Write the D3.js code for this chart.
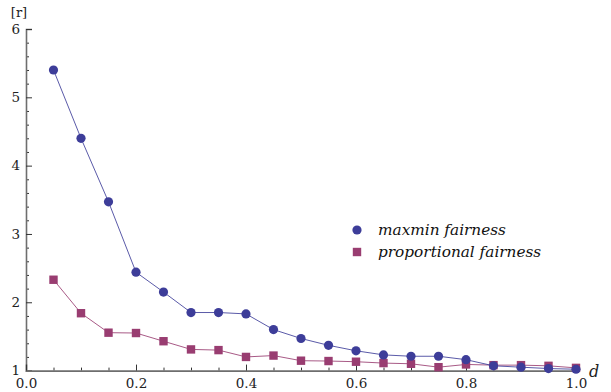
<!DOCTYPE html>
<html>
<head>
<meta charset="utf-8">
<script src="https://cdn.jsdelivr.net/npm/d3@7"></script>
<style>
  body { margin: 0; background: #fff; }
  svg text { font-family: "DejaVu Serif", "Liberation Serif", serif; }
</style>
</head>
<body>
<script>
// d values (x axis)
const dValues = [0.05, 0.10, 0.15, 0.20, 0.25, 0.30, 0.35, 0.40, 0.45, 0.50,
                 0.55, 0.60, 0.65, 0.70, 0.75, 0.80, 0.85, 0.90, 0.95, 1.00];

// [r] for each series
const maxminValues = [5.40, 4.40, 3.47, 2.44, 2.15, 1.85, 1.85, 1.83, 1.60, 1.47,
                      1.37, 1.29, 1.23, 1.21, 1.21, 1.16, 1.07, 1.05, 1.03, 1.02];
const propValues = [2.33, 1.84, 1.555, 1.55, 1.43, 1.31, 1.30, 1.20, 1.22, 1.145,
                    1.14, 1.13, 1.11, 1.10, 1.05, 1.09, 1.08, 1.08, 1.07, 1.04];

const seriesNames = ["maxmin fairness", "proportional fairness"];
const xTicks = [0, 0.2, 0.4, 0.6, 0.8, 1.0];
const yTicks = [1, 2, 3, 4, 5, 6];

const width = 611, height = 392;
const blue = "#3d3d99", purple = "#993d71";
const axisColor = "#6e6e6e";

const svg = d3.select("body").append("svg")
    .attr("width", width)
    .attr("height", height);

const x = d3.scaleLinear().domain([0, 1]).range([26, 576]);
const y = d3.scaleLinear().domain([1, 6]).range([370.6, 29]);

// minor ticks first
const yMinor = d3.range(1, 6.001, 0.2).filter(v => Math.abs(v - Math.round(v)) > 1e-6);
const xMinor = d3.range(0, 1.001, 0.05).filter(v => Math.abs(v * 5 - Math.round(v * 5)) > 1e-6);

const yAxisG = svg.append("g").attr("transform", `translate(${x(0)},0)`);
yAxisG.append("g")
    .call(d3.axisLeft(y).tickValues(yMinor).tickSize(-3).tickFormat(""))
    .call(g => g.select(".domain").remove());
yAxisG.append("g")
    .call(d3.axisLeft(y).tickValues(yTicks).tickSize(-6).tickPadding(6).tickFormat(d3.format("d")))
    .call(g => g.select(".domain").attr("stroke-width", 1.6));

const xAxisG = svg.append("g").attr("transform", `translate(0,${y(1)})`);
xAxisG.append("g")
    .call(d3.axisBottom(x).tickValues(xMinor).tickSize(-3).tickFormat(""))
    .call(g => g.select(".domain").remove());
xAxisG.append("g")
    .call(d3.axisBottom(x).tickValues(xTicks).tickSize(-6).tickPadding(8).tickFormat(d3.format(".1f")))
    .call(g => g.select(".domain").attr("stroke-width", 1.6));

svg.selectAll(".domain").attr("stroke", axisColor);
svg.selectAll(".tick line").attr("stroke", "#333");
svg.selectAll(".tick text")
    .attr("fill", "#222")
    .attr("font-family", null)
    .style("font-size", "13.5px");

// axis labels
svg.append("text")
    .attr("x", 19).attr("y", 17)
    .attr("text-anchor", "middle")
    .attr("fill", "#222")
    .style("font-size", "13px")
    .text("[r]");

svg.append("text")
    .attr("x", 589).attr("y", 377)
    .attr("fill", "#222")
    .style("font-size", "16px")
    .style("font-style", "italic")
    .text("d");

// lines
const line = d3.line().x((d, i) => x(dValues[i])).y(d => y(d));

svg.append("path").datum(propValues)
    .attr("d", line)
    .attr("fill", "none")
    .attr("stroke", purple)
    .attr("stroke-width", 1)
    .attr("opacity", 0.85);

svg.append("path").datum(maxminValues)
    .attr("d", line)
    .attr("fill", "none")
    .attr("stroke", blue)
    .attr("stroke-width", 1)
    .attr("opacity", 0.85);

// markers
svg.selectAll(".sq").data(propValues).enter()
    .append("rect")
    .attr("class", "sq")
    .attr("x", (d, i) => x(dValues[i]) - 4.2)
    .attr("y", d => y(d) - 4.2)
    .attr("width", 8.4)
    .attr("height", 8.4)
    .attr("fill", purple);

svg.selectAll(".dot").data(maxminValues).enter()
    .append("circle")
    .attr("class", "dot")
    .attr("cx", (d, i) => x(dValues[i]))
    .attr("cy", d => y(d))
    .attr("r", 4.6)
    .attr("fill", blue);

// legend
const legend = svg.append("g").attr("transform", "translate(357,230)");
legend.append("circle").attr("cx", 0).attr("cy", 0).attr("r", 4.6).attr("fill", blue);
legend.append("rect").attr("x", -4.2).attr("y", 22 - 4.2).attr("width", 8.4).attr("height", 8.4).attr("fill", purple);
legend.selectAll(".lt").data(seriesNames).enter()
    .append("text")
    .attr("class", "lt")
    .attr("x", 21)
    .attr("y", (d, i) => i * 22 + 5)
    .attr("fill", "#111")
    .style("font-size", "15.3px")
    .style("font-style", "italic")
    .text(d => d);
</script>
</body>
</html>
